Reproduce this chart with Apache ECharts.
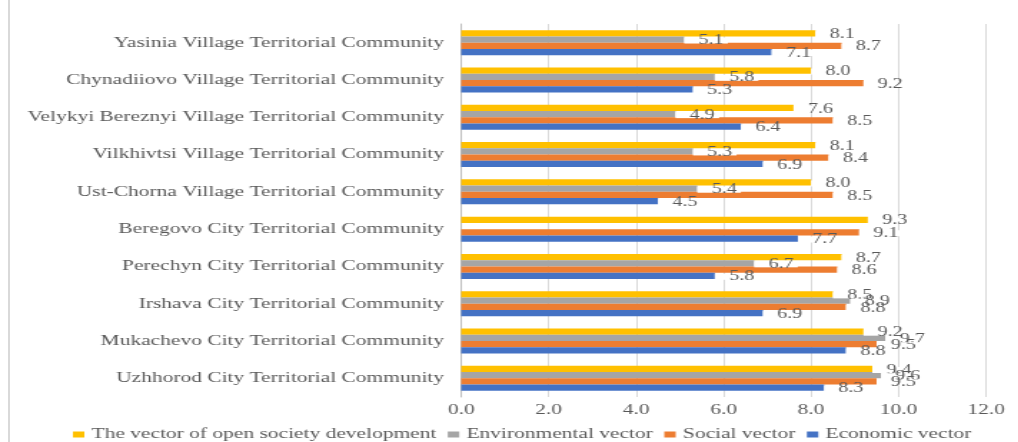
<!DOCTYPE html>
<html>
<head>
<meta charset="utf-8">
<script src="https://cdn.jsdelivr.net/npm/echarts@6/dist/echarts.min.js"></script>
<style>
  html, body { margin: 0; padding: 0; background: #fff; overflow: hidden; }
  #frame { position: absolute; left: 8px; top: 0; width: 2px; height: 442px; background: #d9d9d9; }
  /* the source picture is stretched horizontally, so draw narrow and stretch */
  #chart { position: absolute; left: 10px; top: 0; width: 706px; height: 442px;
           transform: scaleX(1.43); transform-origin: 0 0; }
</style>
</head>
<body>
<div id="frame"></div>
<div id="chart"></div>
<script>
// communities, bottom to top
var categories = [
  'Uzhhorod City Territorial Community',
  'Mukachevo City Territorial Community',
  'Irshava City Territorial Community',
  'Perechyn City Territorial Community',
  'Beregovo City Territorial Community',
  'Ust-Chorna Village Territorial Community',
  'Vilkhivtsi Village Territorial Community',
  'Velykyi Bereznyi Village Territorial Community',
  'Chynadiiovo Village Territorial Community',
  'Yasinia Village Territorial Community'
];
var economic      = [8.3, 8.8, 6.9, 5.8, 7.7, 4.5, 6.9, 6.4, 5.3, 7.1];
var social        = [9.5, 9.5, 8.8, 8.6, 9.1, 8.5, 8.4, 8.5, 9.2, 8.7];
var environmental = [9.6, 9.7, 8.9, 6.7, null, 5.4, 5.3, 4.9, 5.8, 5.1];
var openSociety   = [9.4, 9.2, 8.5, 8.7, 9.3, 8.0, 8.1, 7.6, 8.0, 8.1];
var xTicks = [0, 2, 4, 6, 8, 10, 12];

var serif = '"Liberation Serif", "DejaVu Serif", serif';

function bar(name, data, color) {
  return {
    name: name,
    type: 'bar',
    data: data,
    barWidth: 6.25,
    barGap: '0%',
    itemStyle: { color: color },
    label: {
      show: true,
      position: 'right',
      distance: 0,
      offset: [0, 1],
      formatter: function (p) { return p.value == null ? '' : p.value.toFixed(1); },
      color: '#595959',
      fontFamily: serif,
      fontSize: 14,
      lineHeight: 6,
      backgroundColor: '#fff',
      padding: [0, 3, 0, 10]
    }
  };
}

var myChart = echarts.init(document.getElementById('chart'));
myChart.setOption({
  animation: false,
  grid: { left: 315.5, right: 23.5, top: 24, bottom: 45 },
  legend: {
    data: ['The vector of open society development', 'Environmental vector', 'Social vector', 'Economic vector'],
    left: 39,
    top: 422,
    itemWidth: 8,
    itemHeight: 6,
    itemGap: 8,
    icon: 'rect',
    textStyle: { color: '#595959', fontFamily: serif, fontSize: 15 }
  },
  xAxis: {
    type: 'value',
    min: xTicks[0],
    max: xTicks[xTicks.length - 1],
    interval: 2,
    axisLine: { show: false },
    axisTick: { show: false },
    splitLine: { lineStyle: { color: '#d9d9d9', width: 1 } },
    axisLabel: {
      color: '#595959',
      fontFamily: serif,
      fontSize: 15,
      margin: 6,
      formatter: function (v) { return v.toFixed(1); }
    }
  },
  yAxis: {
    type: 'category',
    data: categories,
    axisLine: { lineStyle: { color: '#bfbfbf' } },
    axisTick: { show: false },
    axisLabel: { color: '#595959', fontFamily: serif, fontSize: 15, margin: 12 }
  },
  series: [
    bar('The vector of open society development', openSociety, '#ffc000'),
    bar('Environmental vector', environmental, '#a5a5a5'),
    bar('Social vector', social, '#ed7d31'),
    bar('Economic vector', economic, '#4472c4')
  ]
});
</script>
</body>
</html>
